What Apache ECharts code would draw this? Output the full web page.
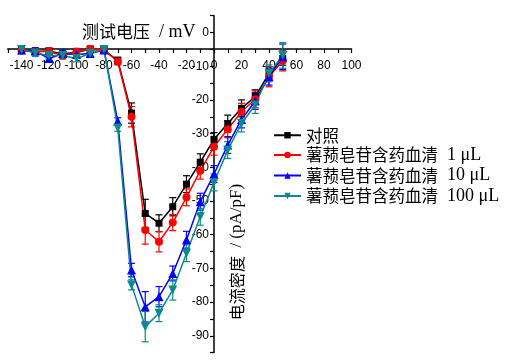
<!DOCTYPE html>
<html>
<head>
<meta charset="utf-8">
<script src="https://cdn.jsdelivr.net/npm/echarts@6/dist/echarts.min.js"></script>
<style>html,body{margin:0;padding:0;background:#fff;}#c{width:509px;height:361px;}</style>
</head>
<body>
<div id="c"></div>
<script>
// ---- data ----
const voltages = [-140,-130,-120,-110,-100,-90,-80,-70,-60,-50,-40,-30,-20,-10,0,10,20,30,40,50];
const seriesNames = ['对照','薯蓣皂苷含药血清  1 μL','薯蓣皂苷含药血清  10 μL','薯蓣皂苷含药血清  100 μL'];
const controlVals = [-5.3,-5.6,-5.5,-6.4,-5.8,-5.0,-5.2,-8.3,-23.9,-53.7,-56.6,-51.7,-45.0,-38.5,-31.7,-27.0,-22.5,-19.0,-12.1,-7.7];
const dose1Vals   = [-5.3,-5.6,-5.6,-6.8,-5.7,-4.9,-5.2,-8.6,-25.0,-58.6,-62.1,-56.4,-48.9,-41.0,-33.9,-28.7,-23.5,-19.8,-13.1,-8.4];
const dose10Vals  = [-5.2,-5.5,-7.7,-6.2,-6.5,-6.2,-5.2,-26.3,-70.5,-81.4,-78.4,-71.5,-61.5,-50.2,-42.0,-33.4,-25.8,-20.3,-13.1,-7.2];
const dose100Vals = [-5.0,-6.1,-6.8,-6.8,-7.7,-6.2,-5.0,-28.3,-74.9,-87.3,-83.3,-76.4,-65.5,-54.7,-44.5,-34.9,-27.0,-21.5,-12.1,-6.8];
const controlErr = [0.8,0.8,0.8,0.8,0.8,0.8,0.8,1.0,3.0,4.2,2.5,2.7,2.5,2.5,2.0,2.5,2.5,2.0,2.0,2.0];
const dose1Err   = [1.0,1.0,1.0,1.0,1.0,1.0,1.0,1.0,3.0,4.2,3.0,2.4,2.5,2.5,2.5,2.5,2.5,2.5,3.0,3.0];
const dose10Err  = [1.0,1.0,1.0,1.0,1.0,1.0,1.0,1.0,2.0,4.5,3.0,2.2,2.5,2.5,2.5,2.5,2.5,2.5,2.5,3.8];
const dose100Err = [1.0,1.0,1.0,1.0,1.0,1.0,1.0,1.0,1.5,4.5,2.5,3.0,2.5,2.5,2.5,2.5,2.5,2.5,2.5,3.8];

const colors = ['#000000','#ff0000','#0000ff','#0a8a8a'];
const symbols = ['rect','circle','triangle','triangle'];
const symbolRot = [0,0,0,180];
const symbolSizes = [7,8,9,9];
const allVals = [controlVals, dose1Vals, dose10Vals, dose100Vals];
const allErr = [controlErr, dose1Err, dose10Err, dose100Err];

const CJK = "'Noto Sans CJK SC',sans-serif";
const SERIF = "'Liberation Serif',serif";

const series = [];
allVals.forEach((vals, i) => {
  const errData = voltages.map((v, k) => [v, vals[k] - allErr[i][k], vals[k] + allErr[i][k]]);
  series.push({
    type: 'custom',
    name: 'err' + i,
    clip: false,
    z: 2,
    data: errData,
    encode: {x: 0, y: [1, 2]},
    renderItem: (params, api) => {
      const x = api.value(0), lo = api.value(1), hi = api.value(2);
      const p1 = api.coord([x, hi]), p2 = api.coord([x, lo]);
      const w = 3.5;
      const st = {stroke: colors[i], lineWidth: 1.2, fill: null};
      return {type: 'group', children: [
        {type: 'line', shape: {x1: p1[0], y1: p1[1], x2: p2[0], y2: p2[1]}, style: st},
        {type: 'line', shape: {x1: p1[0]-w, y1: p1[1], x2: p1[0]+w, y2: p1[1]}, style: st},
        {type: 'line', shape: {x1: p2[0]-w, y1: p2[1], x2: p2[0]+w, y2: p2[1]}, style: st}
      ]};
    },
    silent: true
  });
});
allVals.forEach((vals, i) => {
  series.push({
    type: 'line',
    name: seriesNames[i],
    data: voltages.map((v, k) => [v, vals[k]]),
    symbol: symbols[i],
    symbolRotate: symbolRot[i],
    symbolSize: symbolSizes[i],
    showAllSymbol: true,
    z: 3,
    lineStyle: {color: colors[i], width: 1.5},
    itemStyle: {color: colors[i]},
    animation: false
  });
});

// grid geometry: y axis sits at x = 0 mV, x axis at -5 pA/pF
const gridLeft = 7.75, gridRight = 157.5, gridTop = 15.7, gridBottom = 8.4;

const chart = echarts.init(document.getElementById('c'), null, {renderer: 'canvas'});
chart.setOption({
  animation: false,
  backgroundColor: '#ffffff',
  grid: {left: gridLeft, right: gridRight, top: gridTop, bottom: gridBottom, containLabel: false, outerBoundsMode: 'none'},
  xAxis: {
    type: 'value', min: -150, max: 100, interval: 10,
    position: 'bottom', offset: -303.6,
    axisLine: {onZero: false, lineStyle: {color: '#000', width: 1.5}},
    axisTick: {show: true, length: 4, lineStyle: {color: '#000', width: 1.2}},
    axisLabel: {
      color: '#000', fontSize: 12, fontFamily: "'Liberation Sans',Arial,sans-serif", margin: 11,
      formatter: v => (v % 20 === 0 && v >= -140) ? String(v) : '',
      showMinLabel: true, showMaxLabel: true, hideOverlap: false
    },
    splitLine: {show: false}
  },
  yAxis: {
    type: 'value', min: -95, max: 5, interval: 5,
    position: 'left', offset: -206.25,
    axisLine: {onZero: false, lineStyle: {color: '#000', width: 1.5}},
    axisTick: {show: true, length: 4, lineStyle: {color: '#000', width: 1.2}},
    axisLabel: {
      color: '#000', fontSize: 12, fontFamily: "'Liberation Sans',Arial,sans-serif", margin: 5,
      formatter: v => (v % 10 === 0) ? String(v) : '',
      hideOverlap: false
    },
    splitLine: {show: false}
  },
  legend: {
    data: seriesNames,
    orient: 'vertical',
    left: 273, top: 127, padding: 0,
    itemWidth: 27, itemHeight: 8, itemGap: 2.5,
    formatter: name => {
      const m = name.match(/^(\S+)(\s+)(.*)$/);
      return m ? '{c|' + m[1] + '}{l|  ' + m[3] + '}' : '{c|' + name + '}';
    },
    textStyle: {
      color: '#000', lineHeight: 16,
      rich: {
        c: {fontSize: 16.5, fontFamily: CJK, color: '#000', lineHeight: 16},
        l: {fontSize: 18, fontFamily: SERIF, color: '#000', lineHeight: 16}
      }
    },
    selectedMode: false
  },
  graphic: [
    {type: 'text', left: 82, top: 23, style: {
      text: '{c|测试电压}{l|  / mV}', fill: '#000',
      rich: {c: {fontSize: 17, fontFamily: CJK}, l: {fontSize: 18, fontFamily: SERIF}}
    }},
    {type: 'text', x: 237, y: 252, rotation: Math.PI/2,
     style: {text: '{c|电流密度}{l|  / (pA/pF)}', fill: '#000', align: 'center', verticalAlign: 'middle',
       rich: {c: {fontSize: 16, fontFamily: CJK}, l: {fontSize: 17, fontFamily: SERIF}}}}
  ],
  series: series
});
</script>
</body>
</html>
